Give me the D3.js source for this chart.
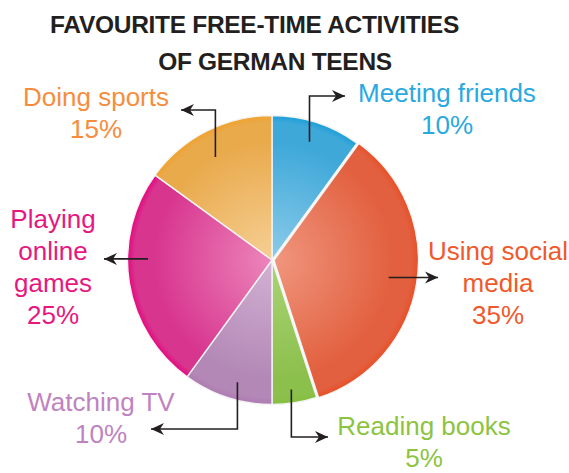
<!DOCTYPE html>
<html>
<head>
<meta charset="utf-8">
<script src="https://cdn.jsdelivr.net/npm/d3@7/dist/d3.min.js"></script>
<style>
  html, body { margin: 0; padding: 0; background: #fff; }
  svg { display: block; font-family: "Liberation Sans", Arial, Helvetica, sans-serif; }
</style>
</head>
<body>
<svg id="chart" width="569" height="473"></svg>
<script>
// Survey results: share of German teens naming each activity (percent)
const activities = ["Meeting friends", "Using social media", "Reading books", "Watching TV", "Playing online games", "Doing sports"];
const shares = [10, 35, 5, 10, 25, 15];
const labelLines = [["Meeting friends"], ["Using social", "media"], ["Reading books"], ["Watching TV"], ["Playing", "online", "games"], ["Doing sports"]];
const titleLines = ["FAVOURITE FREE-TIME ACTIVITIES", "OF GERMAN TEENS"];

// Slice palette: light centre, body, saturated rim, label text colour
const sliceColors = [
  { light: "#8ccbe9", base: "#3ea8d9", rim: "#1c9fd9", text: "#2aa9e0" },
  { light: "#f0967e", base: "#e2603f", rim: "#e84f27", text: "#f0592b" },
  { light: "#aad377", base: "#8cc04d", rim: "#85bf3c", text: "#8cc43f" },
  { light: "#d2b1d3", base: "#b388b6", rim: "#ae7bb2", text: "#c083c0" },
  { light: "#ec86ba", base: "#d8358f", rim: "#e6067f", text: "#e6187f" },
  { light: "#f6cf95", base: "#e9aa4c", rim: "#f1a22c", text: "#f78d3c" }
];

// Label placement: text centre / first baseline, and leader line route
// leader: start at polar (deg clockwise from 12 o'clock, radius), then elbow moves
const labelLayout = [
  { x: 447, y: 102, angle: 17.6, r: 124, moves: [{ y: 96 }, { x: 345 }] },
  { x: 498, y: 260, angle: 98.5, r: 118, moves: [{ x: 438 }] },
  { x: 424, y: 435, angle: 171.5, r: 131, moves: [{ y: 437 }, { x: 328 }] },
  { x: 101, y: 411, angle: 195.8, r: 127, moves: [{ y: 429 }, { x: 151 }] },
  { x: 53, y: 228, angle: 270.5, r: 124, moves: [{ x: 104 }] },
  { x: 96, y: 106, angle: 331.2, r: 117.5, moves: [{ y: 110 }, { x: 181 }] }
];
const explodedIndex = 1;

const svg = d3.select("#chart");
const cx = 272, cy = 260, radius = 144.5, explode = 2;
const lineGap = 32;

// Title
svg.append("g").selectAll("text")
  .data(titleLines)
  .join("text")
  .attr("x", (d, i) => i === 0 ? 254.5 : 275)
  .attr("y", (d, i) => 33 + i * 37)
  .attr("text-anchor", "middle")
  .attr("font-size", 24.5)
  .attr("font-weight", "bold")
  .attr("letter-spacing", -0.3)
  .attr("fill", "#231f20")
  .text(d => d);

const defs = svg.append("defs");
sliceColors.forEach((c, i) => {
  const g = defs.append("radialGradient")
    .attr("id", "grad" + i)
    .attr("gradientUnits", "userSpaceOnUse")
    .attr("cx", 0).attr("cy", 0).attr("r", radius);
  g.append("stop").attr("offset", 0).attr("stop-color", c.light);
  g.append("stop").attr("offset", 0.82).attr("stop-color", c.base);
  g.append("stop").attr("offset", 0.95).attr("stop-color", c.base);
  g.append("stop").attr("offset", 1).attr("stop-color", c.rim);
});

defs.append("marker")
  .attr("id", "arrowhead")
  .attr("viewBox", "-14 -7 16 14")
  .attr("markerUnits", "userSpaceOnUse")
  .attr("markerWidth", 16).attr("markerHeight", 14)
  .attr("refX", 0).attr("refY", 0)
  .attr("orient", "auto")
  .append("path")
  .attr("d", "M0,0 L-13,-6 L-9,0 L-13,6 Z")
  .attr("fill", "#231f20");

const pie = d3.pie().sort(null).value(d => d)(shares);
const arc = d3.arc().innerRadius(0).outerRadius(radius);
const deg = Math.PI / 180;

const pieG = svg.append("g").attr("transform", `translate(${cx},${cy})`);
pieG.selectAll("path")
  .data(pie)
  .join("path")
  .attr("d", arc)
  .attr("fill", (d, i) => `url(#grad${i})`)
  .attr("stroke", "#f4f4f4")
  .attr("stroke-width", 1.4)
  .attr("stroke-linejoin", "round")
  .attr("transform", (d, i) => {
    if (i !== explodedIndex) return null;
    const a = (d.startAngle + d.endAngle) / 2;
    return `translate(${Math.sin(a) * explode},${-Math.cos(a) * explode})`;
  });

// Leader lines with arrowheads
const leaders = svg.append("g");
labelLayout.forEach((L, i) => {
  let x = cx + Math.sin(L.angle * deg) * L.r;
  let y = cy - Math.cos(L.angle * deg) * L.r;
  const pts = [[x, y]];
  L.moves.forEach(m => {
    if (m.x !== undefined) x = m.x;
    if (m.y !== undefined) y = m.y;
    pts.push([x, y]);
  });
  leaders.append("path")
    .attr("d", d3.line()(pts))
    .attr("fill", "none")
    .attr("stroke", "#231f20")
    .attr("stroke-width", 1.6)
    .attr("marker-end", "url(#arrowhead)");
});

// Category labels with percentages
const labels = svg.append("g");
activities.forEach((name, i) => {
  const L = labelLayout[i];
  const lines = labelLines[i].concat([shares[i] + "%"]);
  labels.append("text")
    .attr("text-anchor", "middle")
    .attr("font-size", 26)
    .attr("fill", sliceColors[i].text)
    .selectAll("tspan")
    .data(lines)
    .join("tspan")
    .attr("x", L.x)
    .attr("y", (d, k) => L.y + k * lineGap)
    .text(d => d);
});
</script>
</body>
</html>
